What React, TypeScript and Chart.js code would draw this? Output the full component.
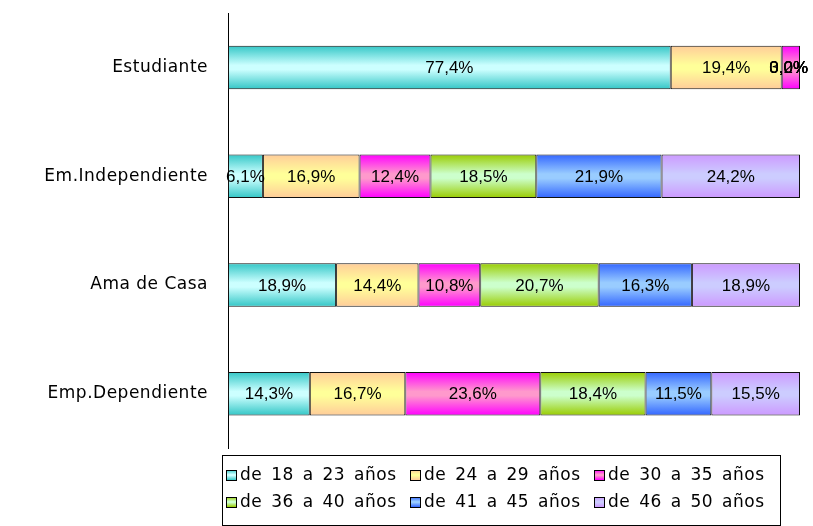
import React, { useEffect, useRef } from "react";
import { Chart, registerables } from "chart.js";

Chart.register(...registerables);

const categories = ["Estudiante", "Em.Independiente", "Ama de Casa", "Emp.Dependiente"];
const seriesLabels = [
  "de 18 a 23 años",
  "de 24 a 29 años",
  "de 30 a 35 años",
  "de 36 a 40 años",
  "de 41 a 45 años",
  "de 46 a 50 años",
];
const age18to23 = [77.4, 6.1, 18.9, 14.3];
const age24to29 = [19.4, 16.9, 14.4, 16.7];
const age30to35 = [3.2, 12.4, 10.8, 23.6];
const age36to40 = [0.0, 18.5, 20.7, 18.4];
const age41to45 = [0.0, 21.9, 16.3, 11.5];
const age46to50 = [0.0, 24.2, 18.9, 15.5];
const seriesValues = [age18to23, age24to29, age30to35, age36to40, age41to45, age46to50];

// [edge colour, centre colour] for the gradient fills
const seriesColors: [string, string][] = [
  ["#33C6C6", "#CCFFFF"],
  ["#FFCC99", "#FFFF99"],
  ["#FF00FF", "#FF99CC"],
  ["#99CC00", "#CCFFCC"],
  ["#3366FF", "#99CCFF"],
  ["#CC99FF", "#CCCCFF"],
];

const BAR_PCT = 0.4;

function makeGradient(ctx: CanvasRenderingContext2D, y0: number, y1: number, c: [string, string]) {
  const g = ctx.createLinearGradient(0, y0, 0, y1);
  g.addColorStop(0, c[0]);
  g.addColorStop(0.45, c[1]);
  g.addColorStop(0.55, c[1]);
  g.addColorStop(1, c[0]);
  return g;
}

const fmt = (v: number) => v.toFixed(1).replace(".", ",") + "%";

const spacingPlugin = {
  id: "spacing",
  beforeUpdate(chart: any) {
    try {
      chart.ctx.letterSpacing = "0.5px";
    } catch (e) {}
  },
  beforeDraw(chart: any) {
    try {
      chart.ctx.letterSpacing = "0.5px";
    } catch (e) {}
  },
};

const labelPlugin = {
  id: "segLabels",
  afterDatasetsDraw(chart: any) {
    const ctx: any = chart.ctx;
    ctx.save();
    try {
      ctx.letterSpacing = "0px";
    } catch (e) {}
    ctx.font = '17px "Liberation Sans", Arial, sans-serif';
    ctx.fillStyle = "#000";
    ctx.textBaseline = "middle";
    ctx.textAlign = "left";
    chart.data.datasets.forEach((ds: any, di: number) => {
      const meta = chart.getDatasetMeta(di);
      meta.data.forEach((el: any, i: number) => {
        const txt = fmt(ds.data[i]);
        const w = ctx.measureText(txt).width;
        const cx = (el.x + el.base) / 2;
        let x = cx - w / 2;
        if (x + w > chart.width - 5) x = chart.width - 5 - w;
        ctx.fillText(txt, x, el.y + 1);
      });
    });
    ctx.restore();
  },
};

const legendPlugin = {
  id: "boxLegend",
  afterDraw(chart: any) {
    const ctx: any = chart.ctx;
    ctx.save();
    ctx.font = '17px "DejaVu Sans", Verdana, sans-serif';
    try {
      ctx.letterSpacing = "0.5px";
      ctx.wordSpacing = "3px";
    } catch (e) {}
    const left = 222;
    const top = 455;
    const totalW = 558;
    const h = 70;
    const colW = 184;
    ctx.strokeStyle = "#000";
    ctx.lineWidth = 1;
    ctx.strokeRect(left + 0.5, top + 0.5, totalW, h);
    ctx.textBaseline = "middle";
    seriesLabels.forEach((l, i) => {
      const row = Math.floor(i / 3);
      const col = i % 3;
      const x = left + 4 + col * colW;
      const yc = top + 20 + row * 27;
      const sq = 10;
      ctx.fillStyle = makeGradient(ctx, yc - sq / 2, yc + sq / 2, seriesColors[i]);
      ctx.fillRect(x + 0.5, yc - sq / 2 + 0.5, sq, sq);
      ctx.strokeStyle = "#000";
      ctx.strokeRect(x + 0.5, yc - sq / 2 + 0.5, sq, sq);
      ctx.fillStyle = "#000";
      ctx.fillText(l, x + sq + 4, yc + 1);
    });
    ctx.restore();
  },
};

export default function App() {
  const ref = useRef<HTMLCanvasElement | null>(null);
  useEffect(() => {
    if (!ref.current) return;
    const chart = new Chart(ref.current, {
      type: "bar",
      data: {
        labels: categories,
        datasets: seriesValues.map((vals, si) => ({
          label: seriesLabels[si],
          data: vals,
          backgroundColor: (c: any) => {
            const ch = c.chart;
            const area = ch.chartArea;
            const ys = ch.scales && ch.scales.y;
            if (c.type !== "data" || !area || !ys) return seriesColors[si][0];
            const cy = ys.getPixelForValue(c.dataIndex);
            const half = ((area.bottom - area.top) / categories.length) * BAR_PCT / 2;
            return makeGradient(ch.ctx, cy - half, cy + half, seriesColors[si]);
          },
          borderColor: "#111",
          borderWidth: 1,
          borderSkipped: false,
          categoryPercentage: 1,
          barPercentage: BAR_PCT,
        })),
      },
      options: {
        indexAxis: "y",
        animation: false,
        responsive: true,
        maintainAspectRatio: false,
        layout: { padding: { left: 0, right: 13, top: 13, bottom: 78 } },
        plugins: { legend: { display: false }, tooltip: { enabled: false } },
        scales: {
          x: { stacked: true, min: 0, max: 100, display: false },
          y: {
            stacked: true,
            grid: { display: false, drawTicks: false },
            border: { display: true, color: "#000", width: 1 },
            ticks: {
              color: "#000",
              padding: 20,
              font: { family: '"DejaVu Sans", Verdana, sans-serif', size: 17 },
            },
            afterFit: (s: any) => {
              s.width = 228;
              s.paddingTop = 0;
              s.paddingBottom = 0;
            },
          },
        },
      } as any,
      plugins: [spacingPlugin, labelPlugin, legendPlugin],
    });
    return () => chart.destroy();
  }, []);
  return (
    <div style={{ position: "fixed", left: 0, top: 0, width: 813, height: 526, background: "#fff" }}>
      <canvas ref={ref} />
    </div>
  );
}
